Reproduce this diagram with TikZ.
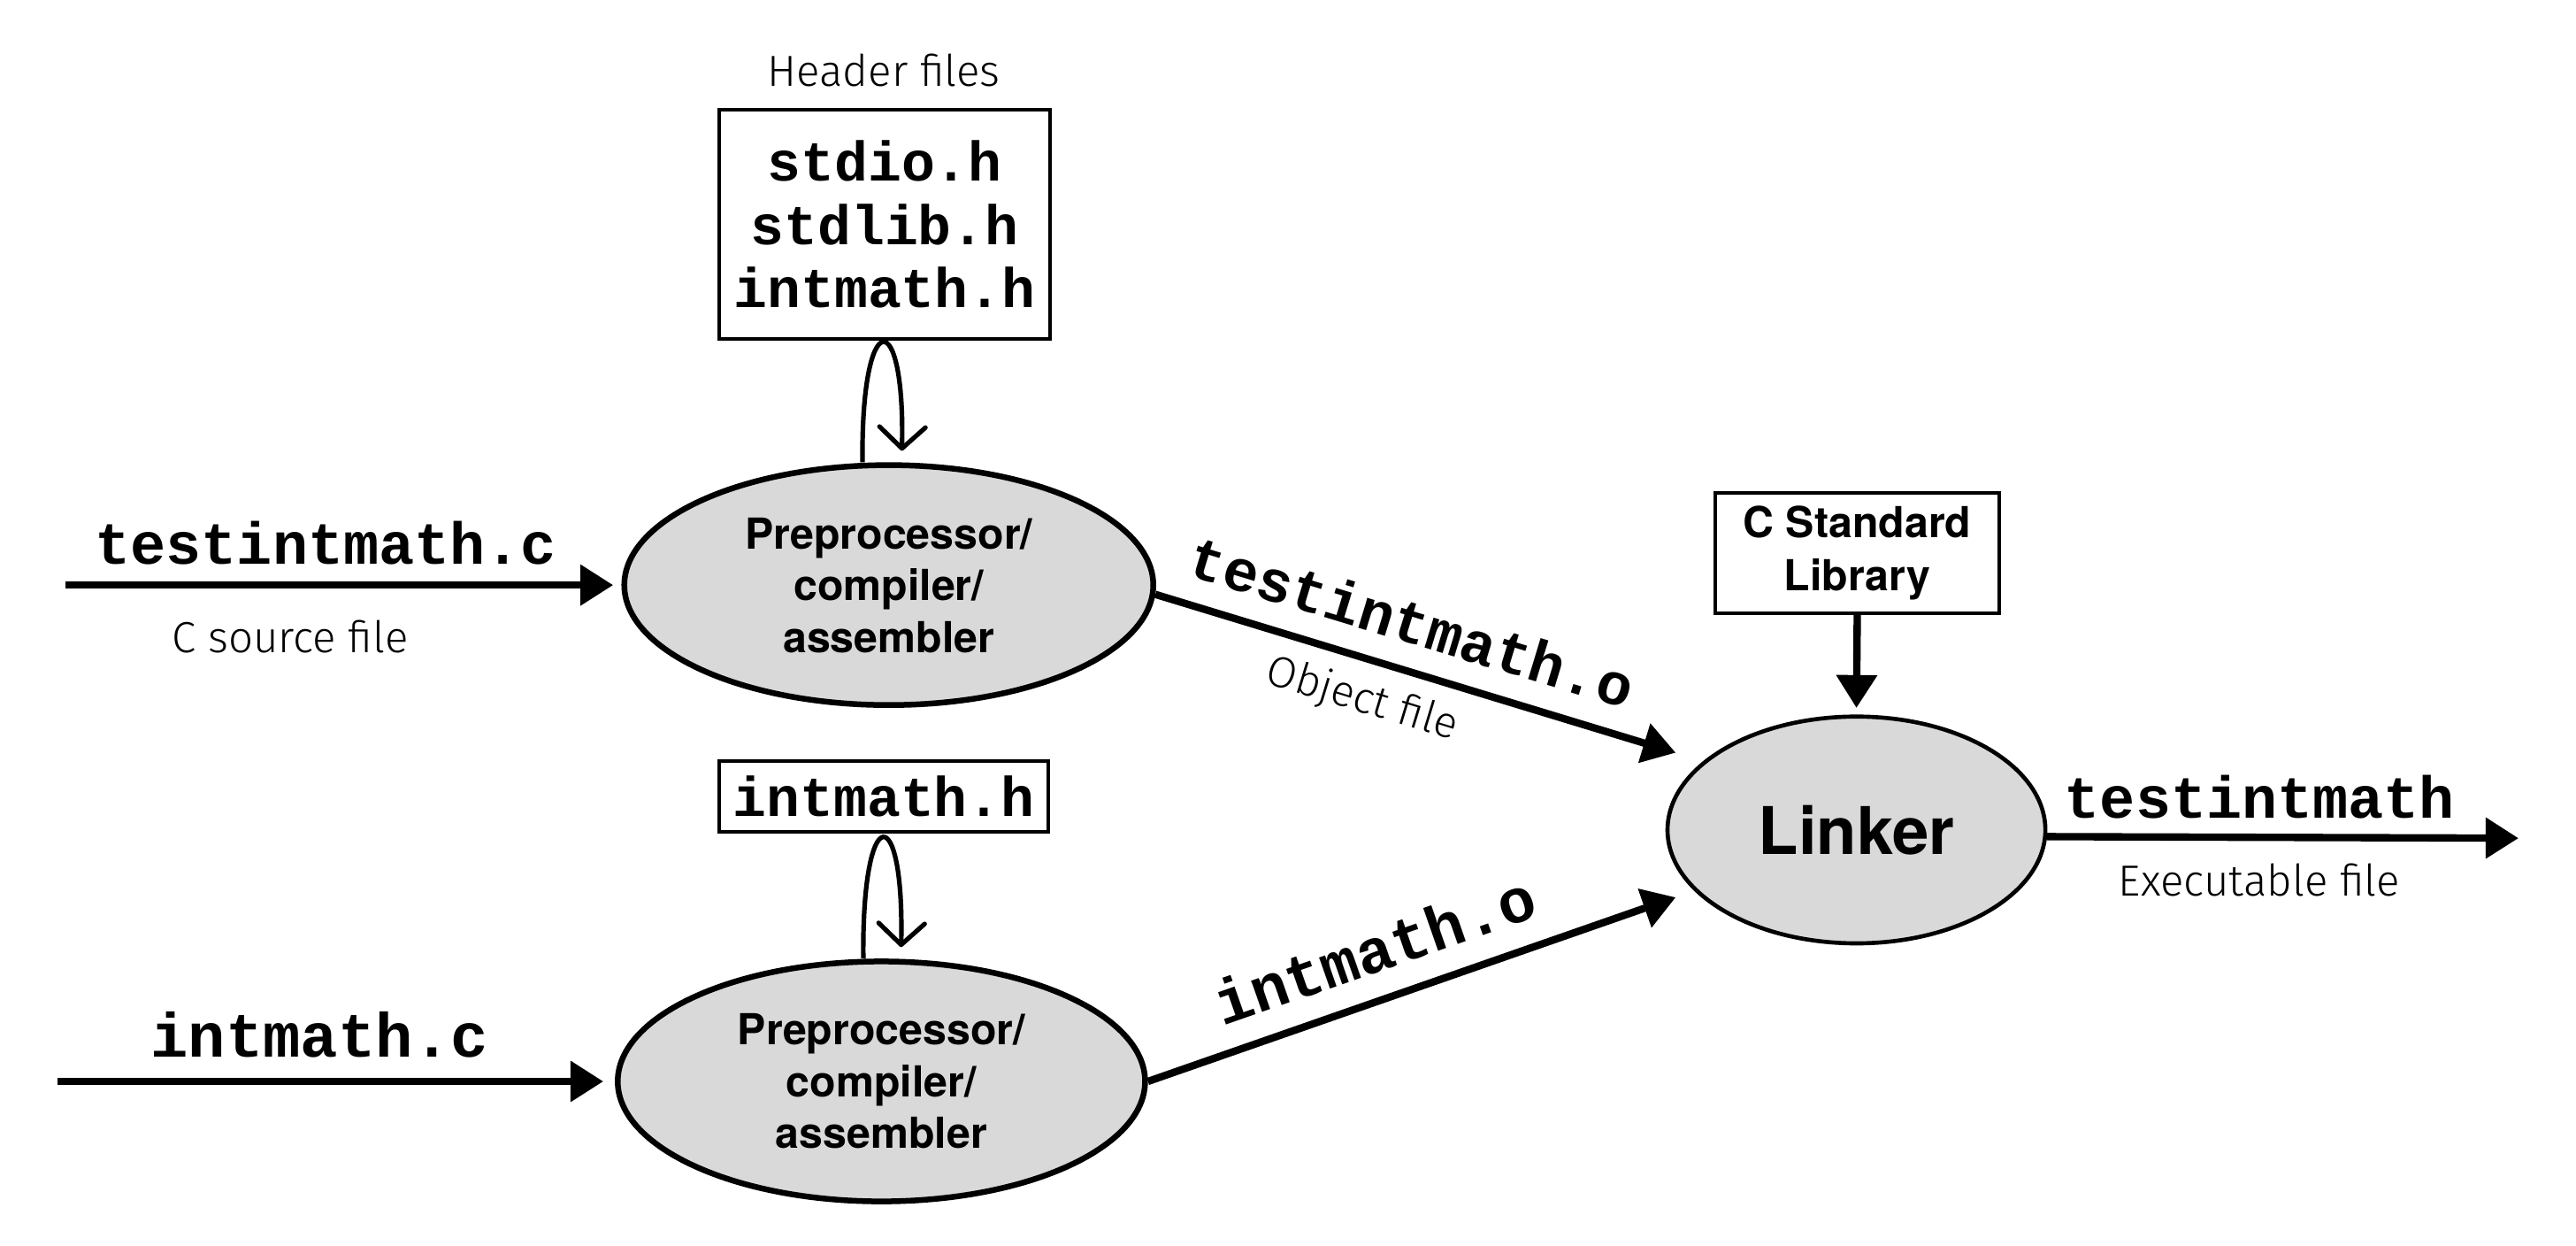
\documentclass[tikz,border=0pt]{standalone}
\usepackage{fontspec}
\setmainfont{TeX Gyre Heros}
\newfontfamily\monofont{Liberation Mono}
\newfontfamily\lightfont{Fira Sans Light}
\usetikzlibrary{arrows.meta,shapes.geometric}
\definecolor{procgray}{HTML}{D9D9D9}
\begin{document}
\begin{tikzpicture}[x=1pt,y=-1pt,
  proc/.style={ellipse, draw, line width=3.5pt, fill=procgray, minimum width=322pt, minimum height=146pt, inner sep=0pt, align=center, font=\bfseries\fontsize{26}{31.5}\selectfont},
  linker/.style={ellipse, draw, line width=2.5pt, fill=procgray, minimum width=230pt, minimum height=138pt, inner sep=0pt, font=\bfseries\fontsize{40}{40}\selectfont},
  hbox/.style={draw, line width=2.2pt, inner sep=0pt, align=center, font=\monofont\bfseries\fontsize{34}{38.5}\selectfont},
  libbox/.style={draw, line width=2.2pt, inner sep=0pt, align=center, minimum width=173pt, minimum height=73pt, font=\bfseries\fontsize{26}{32}\selectfont},
  flow/.style={line width=4.5pt, -{Triangle[length=20pt,width=24pt]}},
  loopar/.style={line width=2.8pt, -{Straight Barb[length=13pt,width=28pt,round]}},
  mlabel/.style={font=\monofont\bfseries\fontsize{36}{36}\selectfont, inner sep=0pt},
  mlabelbig/.style={font=\monofont\bfseries\fontsize{38}{38}\selectfont, inner sep=0pt},
  llabel/.style={font=\lightfont\fontsize{26.5}{26.5}\selectfont, inner sep=0pt}
]
\useasboundingbox (0,0) rectangle (1568,758);

\node[llabel] (hf) at (538,43) {Header files};
\node[hbox, minimum width=201pt, minimum height=139pt] (hdr) at (538.5,136.5) {stdio.h\\stdlib.h\\intmath.h};
\node[proc] (e1) at (541,356) {Preprocessor/\\compiler/\\assembler};
\node[hbox, minimum width=200pt, minimum height=43pt] (hdr2) at (538,484.5) {intmath.h};
\node[proc, minimum width=321pt] (e2) at (536.5,658) {Preprocessor/\\compiler/\\assembler};
\node[libbox] (lib) at (1130.5,336.5) {C Standard\\Library};
\node[linker] (lk) at (1130,505) {Linker};

\coordinate (in1) at (40,356);
\coordinate (in2) at (35,658);
\coordinate (t1) at (1020,458);
\coordinate (t2) at (1020,546);
\coordinate (out) at (1533,510);

% loops from header boxes
\draw[loopar] ([xshift=-16pt]e1.north) .. controls +(-1,-96) and +(2,-89) .. ([xshift=8pt,yshift=7pt]e1.north);
\draw[loopar] ([xshift=-11pt]e2.north) .. controls +(-1,-97) and +(2,-90) .. ([xshift=12pt,yshift=7pt]e2.north);

% inputs
\draw[flow] (in1) -- ([xshift=-5pt]e1.west)
  node[pos=0.475, above=10pt, mlabel] {testintmath.c}
  node[pos=0.41, below=19pt, llabel] {C source file};
\draw[flow] (in2) -- ([xshift=-7pt]e2.west)
  node[pos=0.48, above=12pt, mlabelbig] {intmath.c};

% object files
\draw[flow] (e1.-2) -- (t1)
  node[pos=0.466, sloped, above=14pt, mlabel] {testintmath.o}
  node[pos=0.42, sloped, below=10pt, llabel] {Object file};
\draw[flow] (e2.east) -- (t2)
  node[pos=0.46, sloped, above=14pt, mlabelbig] {intmath.o};

% library
\draw[flow] (lib.south) -- ([yshift=4pt]lk.north);

% output
\draw[flow] (lk.-2.5) -- (out)
  node[pos=0.451, above=9pt, mlabel] {testintmath}
  node[pos=0.45, below=14pt, llabel] {Executable file};
\end{tikzpicture}
\end{document}
